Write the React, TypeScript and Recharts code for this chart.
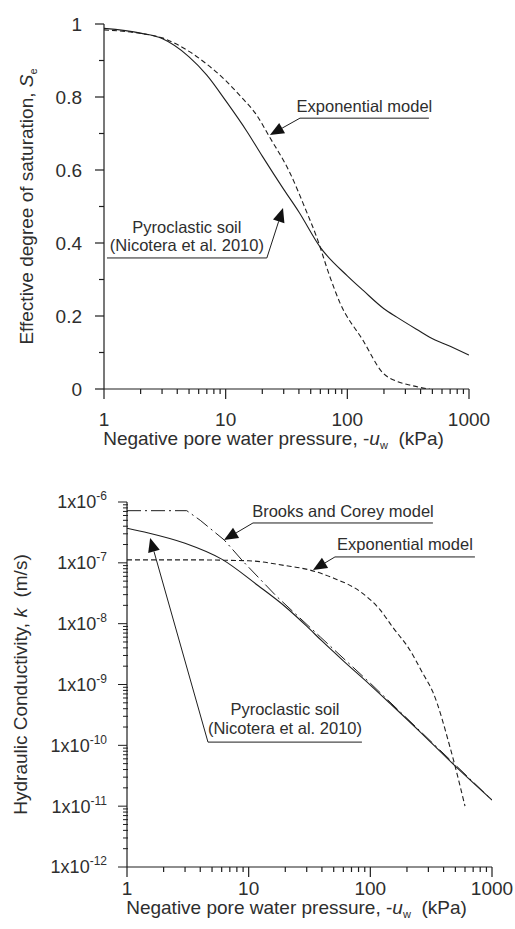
import React from 'react';
import { LineChart, Line, XAxis, YAxis, ReferenceLine, Label } from 'recharts';

// ---------- data: top chart (effective degree of saturation) ----------
const SE_SOIL_X = [1, 2, 3, 5, 7, 10, 15, 20, 30, 40, 60, 100, 135, 200, 255, 400, 475, 700, 1000];
const SE_SOIL_Y = [0.988, 0.975, 0.96, 0.91, 0.86, 0.79, 0.705, 0.638, 0.547, 0.485, 0.388, 0.31, 0.27, 0.22, 0.197, 0.157, 0.142, 0.117, 0.093];
const SE_EXP_X = [1, 2, 3, 5, 7, 10, 13, 18, 23, 34, 45, 56, 72, 87, 134, 196, 260, 325, 400, 475];
const SE_EXP_Y = [0.984, 0.974, 0.962, 0.925, 0.89, 0.845, 0.805, 0.75, 0.69, 0.59, 0.495, 0.416, 0.307, 0.236, 0.134, 0.044, 0.02, 0.011, 0.004, 0.0];

// ---------- data: bottom chart (hydraulic conductivity) ----------
const K_SOIL_X = [1, 1.5, 3, 6, 12, 20, 30, 40, 60, 100, 150, 250, 475, 1000];
const K_SOIL_Y = [3.7e-7, 3.1e-7, 2.1e-7, 1.15e-7, 4.2e-8, 1.9e-8, 9.1e-9, 5.2e-9, 2.45e-9, 9.8e-10, 4.6e-10, 1.75e-10, 5e-11, 1.26e-11];
const K_BC_X = [1, 3.1, 4, 6.3, 9.1, 17, 39, 100, 1000];
const K_BC_Y = [7.2e-7, 7.2e-7, 5e-7, 2.37e-7, 1.03e-7, 2.8e-8, 6e-9, 1.05e-9, 1.26e-11];
const K_EXP_X = [1, 3, 10, 20, 32, 50, 82, 120, 153, 211, 271, 327, 452, 600];
const K_EXP_Y = [1.12e-7, 1.12e-7, 1.08e-7, 9e-8, 7.6e-8, 5.6e-8, 3.4e-8, 1.7e-8, 8.7e-9, 3.7e-9, 1.5e-9, 7.5e-10, 9.3e-11, 1e-11];

// ---------- ticks ----------
const X_TICKS = [1, 2, 3, 4, 5, 6, 7, 8, 9, 10, 20, 30, 40, 50, 60, 70, 80, 90, 100, 200, 300, 400, 500, 600, 700, 800, 900, 1000];
const SE_TICKS = [0, 0.1, 0.2, 0.3, 0.4, 0.5, 0.6, 0.7, 0.8, 0.9, 1];
const K_DECADES = [-12, -11, -10, -9, -8, -7, -6];
const K_MANTISSAS = [1, 2, 3, 4, 5, 6, 7, 8, 9];
const K_TICKS = K_DECADES.flatMap((e) => (e === -6 ? [1e-6] : K_MANTISSAS.map((m) => m * Math.pow(10, e))));

const FONT = '"Liberation Sans", Arial, sans-serif';
const INK = '#1e1e1e';
const TEXT = '#2e2e2e';

const pts = (xs: number[], ys: number[]) => xs.map((x, i) => ({ x, y: ys[i] }));

const isDecade = (v: number) => Math.abs(Math.log10(v) - Math.round(Math.log10(v))) < 1e-6;

const makeXTick = (labelDy: number) => (p: any) => {
  const { x, y, payload } = p;
  const major = isDecade(payload.value);
  return (
    <g>
      <line x1={x} x2={x} y1={y} y2={y + (major ? 10 : 5)} stroke={INK} strokeWidth={1.2} />
      {major && (
        <text x={x} y={y + labelDy} textAnchor="middle" fontSize={19} fill={TEXT} fontFamily={FONT}>
          {payload.value}
        </text>
      )}
    </g>
  );
};

const SeTick = (p: any) => {
  const { x, y, payload } = p;
  const v = payload.value;
  const major = Math.abs(v * 5 - Math.round(v * 5)) < 1e-6;
  const txt = v === 0 ? '0' : v === 1 ? '1' : v.toFixed(1);
  return (
    <g>
      <line x1={x} x2={x - (major ? 9 : 5)} y1={y} y2={y} stroke={INK} strokeWidth={1.2} />
      {major && (
        <text x={x - 22} y={y} dy="0.36em" textAnchor="end" fontSize={19} fill={TEXT} fontFamily={FONT}>
          {txt}
        </text>
      )}
    </g>
  );
};

const KTick = (p: any) => {
  const { x, y, payload } = p;
  const v = payload.value;
  const major = isDecade(v);
  const exp = Math.round(Math.log10(v));
  return (
    <g>
      <line x1={x + (major ? 0 : 1)} x2={x - (major ? 9 : 4)} y1={y} y2={y} stroke={INK} strokeWidth={1} />
      {major && (
        <text x={x - 20} y={y} dy="0.36em" textAnchor="end" fontSize={18} fill={TEXT} fontFamily={FONT}>
          1x10
          <tspan dy={-8} fontSize={12}>
            {exp}
          </tspan>
        </text>
      )}
    </g>
  );
};

const xTitle = (dy: number) => (p: any) => {
  const vb = p.viewBox || { x: 0, y: 0, width: 0 };
  const cx = vb.x + vb.width / 2 - 13;
  return (
    <text x={cx} y={vb.y + dy} textAnchor="middle" fontSize={19} fill={TEXT} fontFamily={FONT}>
      Negative pore water pressure, -<tspan fontStyle="italic">u</tspan>
      <tspan fontSize={11} dy={4}>w</tspan>
      <tspan dy={-4}>{'\u00a0\u00a0(kPa)'}</tspan>
    </text>
  );
};

const yTitle = (dxFromAxis: number, kind: 'se' | 'k') => (p: any) => {
  const vb = p.viewBox || { x: 0, y: 0, width: 0, height: 0 };
  const cx = vb.x + vb.width - dxFromAxis;
  const cy = vb.y + vb.height / 2;
  return (
    <text
      x={cx}
      y={cy}
      dy="0.36em"
      transform={`rotate(-90, ${cx}, ${cy})`}
      textAnchor="middle"
      fontSize={19}
      fill={TEXT}
      fontFamily={FONT}
    >
      {kind === 'se' ? (
        <>
          Effective degree of saturation, <tspan fontStyle="italic">S</tspan>
          <tspan fontSize={11} dy={4}>e</tspan>
        </>
      ) : (
        <>
          Hydraulic Conductivity, <tspan fontStyle="italic">k</tspan>
          {'\u00a0\u00a0(m/s)'}
        </>
      )}
    </text>
  );
};

const arrowShape = (p: any) => {
  const { x1, y1, x2, y2 } = p;
  const ang = Math.atan2(y2 - y1, x2 - x1);
  const L = 14;
  const W = 6;
  const bx = x2 - L * Math.cos(ang);
  const by = y2 - L * Math.sin(ang);
  const px = -Math.sin(ang) * W;
  const py = Math.cos(ang) * W;
  return (
    <g>
      <line x1={x1} y1={y1} x2={bx} y2={by} stroke={INK} strokeWidth={1} />
      <polygon points={`${x2},${y2} ${bx + px},${by + py} ${bx - px},${by - py}`} fill="#111" />
    </g>
  );
};

const underlineShape = (lines: string[], offsets: number[]) => (p: any) => {
  const { x1, y1, x2, y2 } = p;
  const cx = (x1 + x2) / 2;
  return (
    <g>
      <line x1={x1} y1={y1} x2={x2} y2={y2} stroke={INK} strokeWidth={1} />
      {lines.map((t, i) => (
        <text key={i} x={cx} y={y1 + offsets[i]} textAnchor="middle" fontSize={16.5} fill={TEXT} fontFamily={FONT}>
          {t}
        </text>
      ))}
    </g>
  );
};

const TopChart = () => (
  <LineChart width={515} height={460} margin={{ top: 24, right: 46, left: 44, bottom: 11 }}>
    <XAxis
      type="number"
      dataKey="x"
      scale="log"
      domain={[1, 1000]}
      ticks={X_TICKS}
      interval={0}
      allowDataOverflow
      height={60}
      tickSize={0}
      tickMargin={0}
      tickLine={false}
      axisLine={{ stroke: INK, strokeWidth: 1.2 }}
      tick={makeXTick(37)}
    >
      <Label content={xTitle(56)} />
    </XAxis>
    <YAxis
      type="number"
      dataKey="y"
      domain={[0, 1]}
      ticks={SE_TICKS}
      interval={0}
      allowDataOverflow
      width={60}
      tickSize={0}
      tickMargin={0}
      tickLine={false}
      axisLine={{ stroke: INK, strokeWidth: 1.2 }}
      tick={SeTick}
    >
      <Label content={yTitle(78, 'se')} />
    </YAxis>
    <Line data={pts(SE_SOIL_X, SE_SOIL_Y)} dataKey="y" type="monotone" stroke={INK} strokeWidth={1.1} dot={false} activeDot={false} isAnimationActive={false} />
    <Line data={pts(SE_EXP_X, SE_EXP_Y)} dataKey="y" type="monotone" stroke={INK} strokeWidth={1.1} strokeDasharray="5 3" dot={false} activeDot={false} isAnimationActive={false} />
    <ReferenceLine ifOverflow="visible" segment={[{ x: 40.8, y: 0.742 }, { x: 468, y: 0.742 }]} shape={underlineShape(['Exponential model'], [-6])} />
    <ReferenceLine ifOverflow="visible" segment={[{ x: 40.8, y: 0.742 }, { x: 23.1, y: 0.696 }]} shape={arrowShape} />
    <ReferenceLine ifOverflow="visible" segment={[{ x: 1.058, y: 0.359 }, { x: 21.8, y: 0.359 }]} shape={underlineShape(['Pyroclastic soil', '(Nicotera et al. 2010)'], [-25, -7])} />
    <ReferenceLine ifOverflow="visible" segment={[{ x: 21.8, y: 0.359 }, { x: 29.6, y: 0.496 }]} shape={arrowShape} />
  </LineChart>
);

const BottomChart = () => (
  <LineChart width={515} height={469} margin={{ top: 42, right: 23, left: 67, bottom: 2 }}>
    <XAxis
      type="number"
      dataKey="x"
      scale="log"
      domain={[1, 1000]}
      ticks={X_TICKS}
      interval={0}
      allowDataOverflow
      height={60}
      tickSize={0}
      tickMargin={0}
      tickLine={false}
      axisLine={{ stroke: INK, strokeWidth: 1.2 }}
      tick={makeXTick(28)}
    >
      <Label content={xTitle(47)} />
    </XAxis>
    <YAxis
      type="number"
      dataKey="y"
      scale="log"
      domain={[1e-12, 1e-6]}
      ticks={K_TICKS}
      interval={0}
      allowDataOverflow
      width={60}
      tickSize={0}
      tickMargin={0}
      tickLine={false}
      axisLine={{ stroke: INK, strokeWidth: 1.2 }}
      tick={KTick}
    >
      <Label content={yTitle(107, 'k')} />
    </YAxis>
    <Line data={pts(K_SOIL_X, K_SOIL_Y)} dataKey="y" type="monotone" stroke={INK} strokeWidth={1.1} dot={false} activeDot={false} isAnimationActive={false} />
    <Line data={pts(K_BC_X, K_BC_Y)} dataKey="y" type="linear" stroke={INK} strokeWidth={1} strokeDasharray="14 4 2 4" dot={false} activeDot={false} isAnimationActive={false} />
    <Line data={pts(K_EXP_X, K_EXP_Y)} dataKey="y" type="monotone" stroke={INK} strokeWidth={1.1} strokeDasharray="5 3" dot={false} activeDot={false} isAnimationActive={false} />
    <ReferenceLine ifOverflow="visible" segment={[{ x: 10.85, y: 4.52e-7 }, { x: 327, y: 4.52e-7 }]} shape={underlineShape(['Brooks and Corey model'], [-6])} />
    <ReferenceLine ifOverflow="visible" segment={[{ x: 10.85, y: 4.52e-7 }, { x: 6.27, y: 2.37e-7 }]} shape={arrowShape} />
    <ReferenceLine ifOverflow="visible" segment={[{ x: 51.2, y: 1.25e-7 }, { x: 724, y: 1.25e-7 }]} shape={underlineShape(['Exponential model'], [-7])} />
    <ReferenceLine ifOverflow="visible" segment={[{ x: 51.2, y: 1.25e-7 }, { x: 33.8, y: 7.6e-8 }]} shape={arrowShape} />
    <ReferenceLine ifOverflow="visible" segment={[{ x: 4.63, y: 1.13e-10 }, { x: 85.3, y: 1.13e-10 }]} shape={underlineShape(['Pyroclastic soil', '(Nicotera et al. 2010)'], [-27, -8])} />
    <ReferenceLine ifOverflow="visible" segment={[{ x: 4.63, y: 1.13e-10 }, { x: 1.55, y: 2.56e-7 }]} shape={arrowShape} />
  </LineChart>
);

export default function App() {
  return (
    <div style={{ position: 'absolute', left: 0, top: 0, width: 515, height: 929, background: '#fff' }}>
      <div style={{ position: 'absolute', left: 0, top: 0 }}>
        <TopChart />
      </div>
      <div style={{ position: 'absolute', left: 0, top: 460 }}>
        <BottomChart />
      </div>
    </div>
  );
}
